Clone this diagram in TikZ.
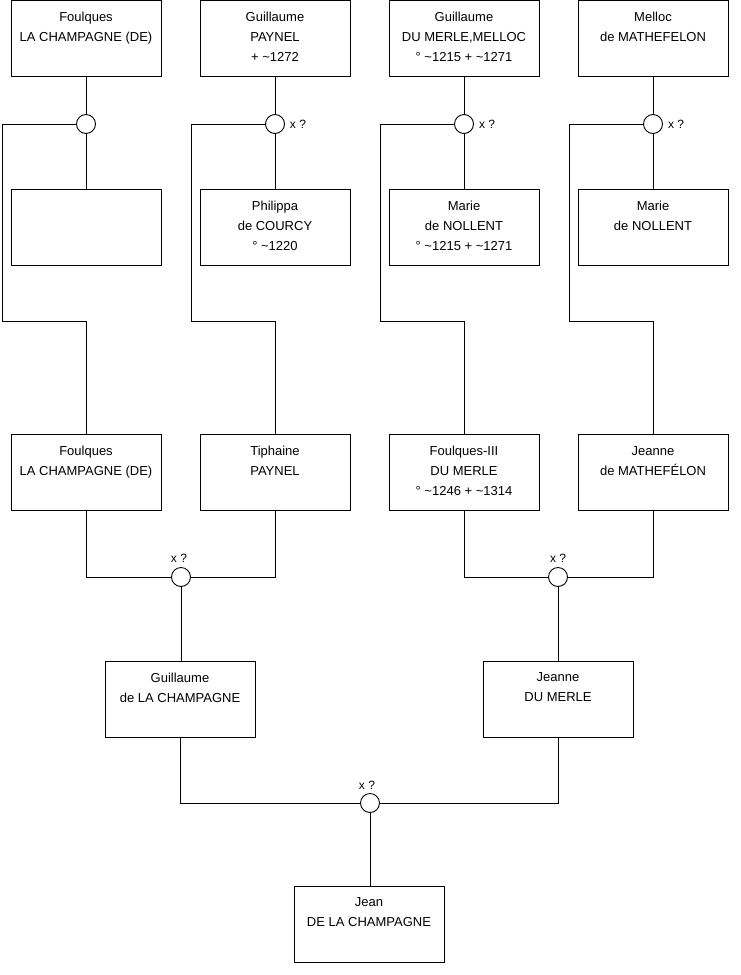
\documentclass[tikz,border=0pt]{standalone}
\usepackage{fontspec}
\setmainfont{Liberation Sans}
\begin{document}
\begin{tikzpicture}[x=1pt,y=-1pt,
  famBox/.style={draw=black,line width=0.9pt,minimum width=150pt,minimum height=76pt,inner sep=0pt},
  famTxt/.style={anchor=north,align=center,inner sep=0pt,font=\fontsize{13}{20}\selectfont},
  ring/.style={draw=black,line width=0.9pt,circle,minimum size=19pt,inner sep=0pt,fill=white},
  xlbl/.style={inner sep=0pt,font=\fontsize{12}{14}\selectfont},
  link/.style={draw=black,line width=0.9pt}]
\useasboundingbox (0,0) rectangle (740,975);
% row 1
\node[famBox] (b1) at (86,38.5) {};
\node[famBox] (b2) at (275,38.5) {};
\node[famBox] (b3) at (464,38.5) {};
\node[famBox] (b4) at (653,38.5) {};
\node[famTxt] (t1) at (86,11.5) {Foulques\\ LA CHAMPAGNE (DE)};
\node[famTxt] (t2) at (275,11.5) {Guillaume\\PAYNEL\\+ \textasciitilde1272};
\node[famTxt] (t3) at (464,11.5) {Guillaume\\DU MERLE,MELLOC\\° \textasciitilde1215 + \textasciitilde1271};
\node[famTxt] (t4) at (653,11.5) {Melloc\\de MATHEFELON};
% row 2
\node[famBox] (b5) at (86,227) {};
\node[famBox] (b6) at (275,227) {};
\node[famBox] (b7) at (464,227) {};
\node[famBox] (b8) at (653,227) {};
\node[famTxt] (t6) at (275,200.5) {Philippa\\de COURCY\\° \textasciitilde1220};
\node[famTxt] (t7) at (464,200.5) {Marie\\de NOLLENT\\° \textasciitilde1215 + \textasciitilde1271};
\node[famTxt] (t8) at (653,200.5) {Marie\\de NOLLENT};
% row 3
\node[famBox] (b9) at (86,472) {};
\node[famBox] (b10) at (275,472) {};
\node[famBox] (b11) at (464,472) {};
\node[famBox] (b12) at (653,472) {};
\node[famTxt] (t9) at (86,445.5) {Foulques\\ LA CHAMPAGNE (DE)};
\node[famTxt] (t10) at (275,445.5) {Tiphaine\\PAYNEL};
\node[famTxt] (t11) at (464,445.5) {Foulques-III\\DU MERLE\\° \textasciitilde1246 + \textasciitilde1314};
\node[famTxt] (t12) at (653,446.5) {Jeanne\\de MATHEFÉLON};
% row 4
\node[famBox] (b13) at (180,699) {};
\node[famBox] (b14) at (558,699) {};
\node[famTxt] (t13) at (180,672.5) {Guillaume\\de LA CHAMPAGNE};
\node[famTxt] (t14) at (558,672.5) {Jeanne\\DU MERLE};
% bottom
\node[famBox] (b15) at (369,924.5) {};
\node[famTxt] (t15) at (369,897.5) {Jean\\DE LA CHAMPAGNE};
% circles
\node[ring] (c1) at (86,124) {};
\node[ring] (c2) at (275,124) {};
\node[ring] (c3) at (464,124) {};
\node[ring] (c4) at (653,124) {};
\node[ring] (c5) at (181,577) {};
\node[ring] (c6) at (558,577) {};
\node[ring] (c7) at (370,803) {};
\node[xlbl] (x2) at (298,124) {x ?};
\node[xlbl] (x3) at (487,124) {x ?};
\node[xlbl] (x4) at (676,124) {x ?};
\node[xlbl] (x5) at (179,558) {x ?};
\node[xlbl] (x6) at (558,558) {x ?};
\node[xlbl] (x7) at (367,785) {x ?};
% coordinates for corners
\coordinate (k1a) at (2,124); \coordinate (k1b) at (2,321); \coordinate (k1c) at (86,321);
\coordinate (k2a) at (191,124); \coordinate (k2b) at (191,321); \coordinate (k2c) at (275,321);
\coordinate (k3a) at (380,124); \coordinate (k3b) at (380,321); \coordinate (k3c) at (464,321);
\coordinate (k4a) at (569,124); \coordinate (k4b) at (569,321); \coordinate (k4c) at (653,321);
% row1 links
\foreach \i/\j in {1/5,2/6,3/7,4/8}{
  \draw[link] (b\i.south) -- (c\i.north);
  \draw[link] (c\i.south) -- (b\j.north);
}
\draw[link] (c1.west) -- (k1a) -- (k1b) -- (k1c) -- (b9.north);
\draw[link] (c2.west) -- (k2a) -- (k2b) -- (k2c) -- (b10.north);
\draw[link] (c3.west) -- (k3a) -- (k3b) -- (k3c) -- (b11.north);
\draw[link] (c4.west) -- (k4a) -- (k4b) -- (k4c) -- (b12.north);
% row3 links
\draw[link] (b9.south) |- (c5.west);
\draw[link] (b10.south) |- (c5.east);
\draw[link] (c5.south) -- (c5.south |- b13.north);
\draw[link] (b11.south) |- (c6.west);
\draw[link] (b12.south) |- (c6.east);
\draw[link] (c6.south) -- (b14.north);
% row4 links
\draw[link] (b13.south) |- (c7.west);
\draw[link] (b14.south) |- (c7.east);
\draw[link] (c7.south) -- (c7.south |- b15.north);
\end{tikzpicture}
\end{document}
